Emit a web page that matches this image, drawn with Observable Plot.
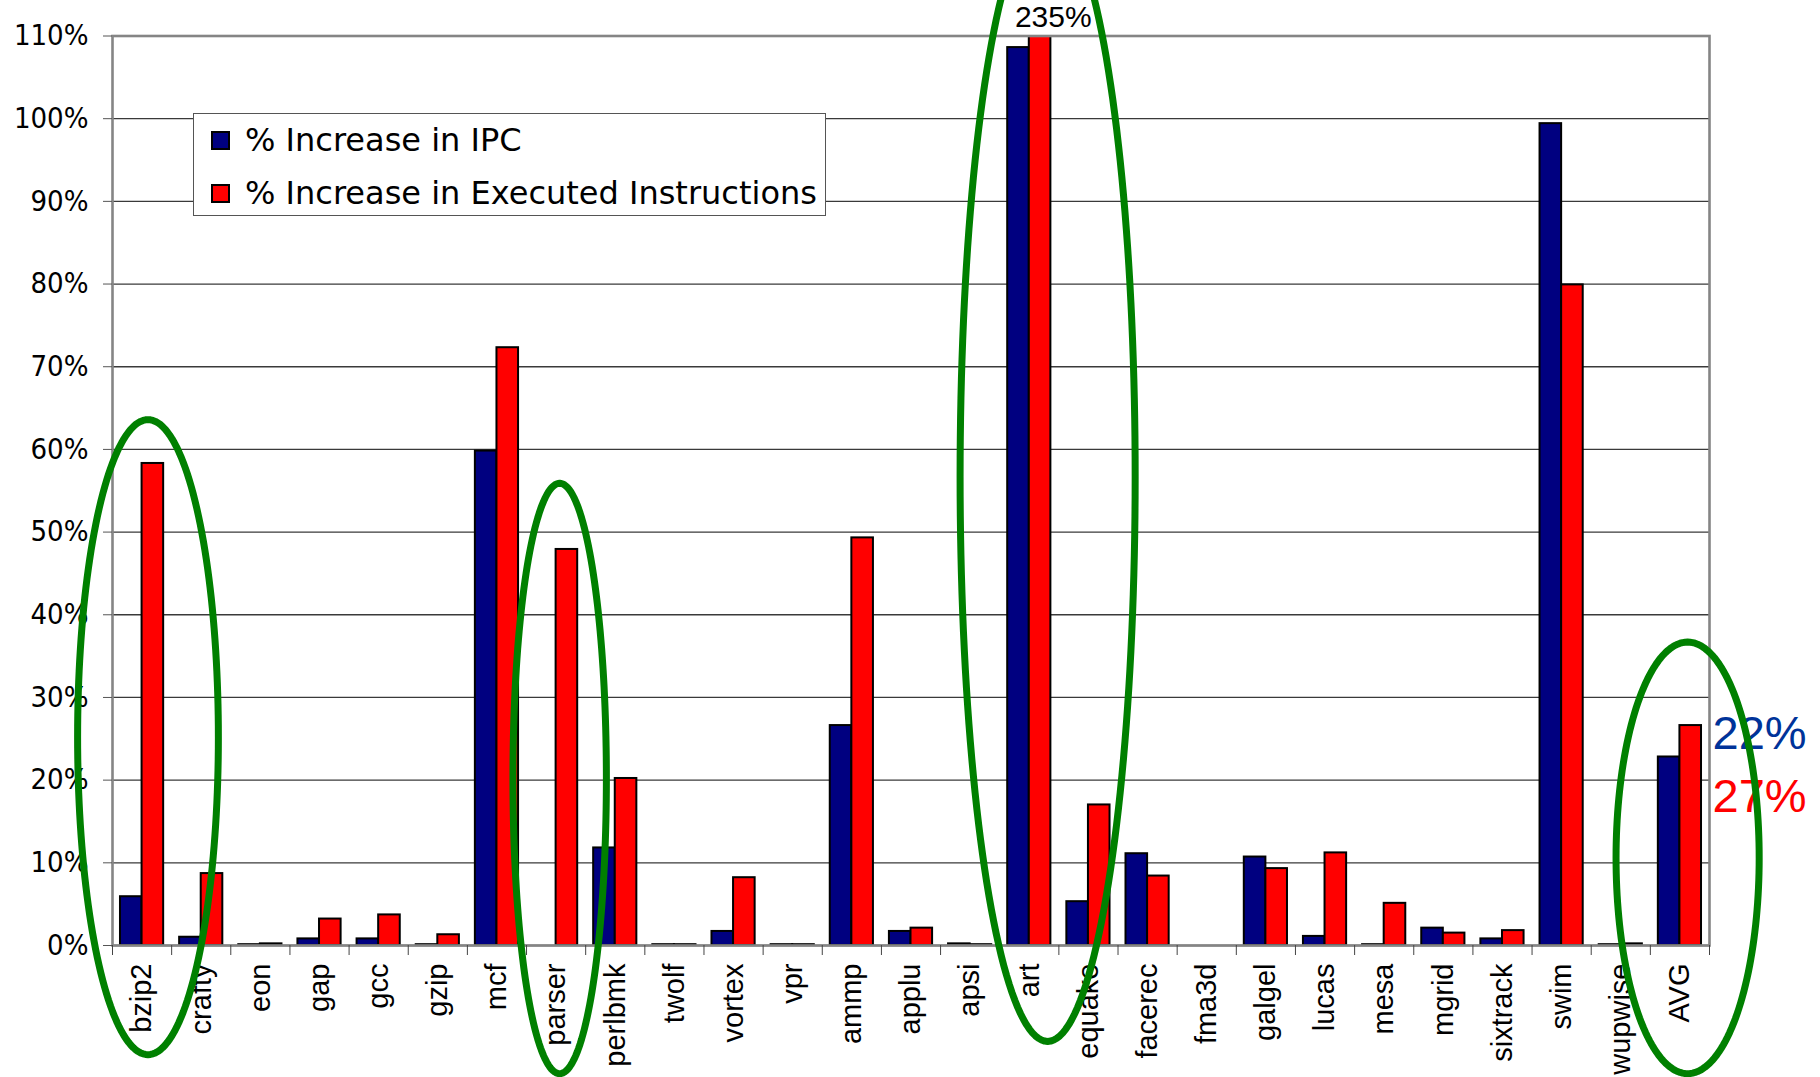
<!DOCTYPE html>
<html><head><meta charset="utf-8">
<script src="https://cdn.jsdelivr.net/npm/d3@7"></script>
<script src="https://cdn.jsdelivr.net/npm/@observablehq/plot@0.6"></script>
<style>
html,body{margin:0;padding:0;background:#fff;}
#wrap{position:relative;width:1820px;height:1077px;overflow:hidden;color:#000;}
#legend{position:absolute;left:193px;top:113px;width:633px;height:103px;box-sizing:border-box;border:1.5px solid #555;background:#fff;font-family:"DejaVu Sans","Verdana",sans-serif;font-size:32px;color:#000;}
.row{position:absolute;left:17px;height:38px;line-height:38px;display:flex;align-items:center;white-space:nowrap;}
.sw{width:19px;height:19px;box-sizing:border-box;border:2px solid #000;margin-right:15px;flex:none;}
</style></head>
<body><div id="wrap"><div id="legend"></div></div>
<script>
// ---- data ----
const categories = ["bzip2","crafty","eon","gap","gcc","gzip","mcf","parser","perlbmk","twolf","vortex","vpr","ammp","applu","apsi","art","equake","facerec","fma3d","galgel","lucas","mesa","mgrid","sixtrack","swim","wupwise","AVG"];
const ipcIncrease  = [5.9,1.0,0.1,0.8,0.8,0.1,59.8,0,11.8,0.1,1.7,0.1,26.6,1.7,0.2,108.6,5.3,11.1,0,10.7,1.1,0.1,2.1,0.8,99.4,0.1,22.8];
const execIncrease = [58.3,8.7,0.2,3.2,3.7,1.3,72.3,47.9,20.2,0.1,8.2,0.1,49.3,2.1,0.1,235,17.0,8.4,0,9.3,11.2,5.1,1.5,1.8,79.9,0.2,26.6];
const yTicks = [0,10,20,30,40,50,60,70,80,90,100,110];
const seriesNames = ["% Increase in IPC","% Increase in Executed Instructions"];
const seriesColors = ["#000080","#FF0000"];
const callouts = [{cat:"art", text:"235%"}];
const avgLabelIPC = [{text:"22%"}];
const avgLabelExec = [{text:"27%"}];
// highlight ellipses (annotation, in data units: category index, % value, radii)
const highlights = [
  {id:"a", cx:0.10, cy:25.2, rx:1.19, ry:38.4},
  {id:"b", cx:7.06, cy:20.2, rx:0.79, ry:35.7},
  {id:"c", cx:15.31, cy:56.7, rx:1.48, ry:68.3},
  {id:"d", cx:26.13, cy:10.6, rx:1.21, ry:26.1}
];

// ---- build ----
const rows = categories.map((c,i) => ({i, c, ipc: ipcIncrease[i], exec: execIncrease[i]}));
const ellipsePts = highlights.flatMap(h => d3.range(0, 360, 2).map(a => ({
  id: h.id,
  x: h.cx + h.rx*Math.cos(a*Math.PI/180),
  y: h.cy + h.ry*Math.sin(a*Math.PI/180)
})));
const avgIdx = categories.length - 1;
const half = 0.365;
const bounds = d3.range(-0.5, categories.length, 1);
const arial = "Liberation Sans, Arial, sans-serif";

const plot = Plot.plot({
  width: 1820, height: 1077,
  marginLeft: 112, marginRight: 111, marginTop: 35.5, marginBottom: 132,
  style: {background: "transparent", overflow: "visible", color: "#000"},
  x: {type: "linear", domain: [-0.5, categories.length - 0.5]},
  y: {domain: [0, 110]},
  marks: [
    Plot.gridY(yTicks, {stroke: "#3a3a3a", strokeOpacity: 1, strokeWidth: 1.3}),
    Plot.rect(rows.filter(d => d.ipc > 0), {x1: d => d.i - half, x2: d => d.i, y1: 0, y2: "ipc", fill: seriesColors[0], stroke: "#000", strokeWidth: 2, clip: true}),
    Plot.rect(rows.filter(d => d.exec > 0), {x1: d => d.i, x2: d => d.i + half, y1: 0, y2: "exec", fill: seriesColors[1], stroke: "#000", strokeWidth: 2, clip: true}),
    Plot.frame({stroke: "#858585", strokeWidth: 2.6}),
    Plot.axisY(yTicks, {tickSize: 9, tickPadding: 15, tickFormat: d => d + "%", fontSize: 29, fontFamily: "DejaVu Sans Condensed, DejaVu Sans, sans-serif", stroke: "#555", label: null}),
    Plot.axisX(bounds, {tickSize: 10, tickFormat: () => "", stroke: "#444", label: null}),
    Plot.axisX(d3.range(categories.length), {tickSize: 0, tickPadding: 18, tickRotate: -90, tickFormat: i => categories[i], fontSize: 29, fontFamily: arial, label: null}),
    Plot.text(callouts, {x: d => categories.indexOf(d.cat), y: 110, text: "text", dx: 24, dy: -9, lineAnchor: "bottom", fontSize: 30, fontFamily: arial, fill: "#000"}),
    Plot.text(avgLabelIPC, {x: avgIdx + 0.5, y: ipcIncrease[avgIdx], dy: -23, text: "text", fill: "#003399", dx: 3, textAnchor: "start", lineAnchor: "middle", fontSize: 47, fontFamily: arial}),
    Plot.text(avgLabelExec, {x: avgIdx + 0.5, y: execIncrease[avgIdx], dy: 71, text: "text", fill: "#FF0000", dx: 3, textAnchor: "start", lineAnchor: "middle", fontSize: 47, fontFamily: arial}),
    Plot.line(ellipsePts, {x: "x", y: "y", z: "id", stroke: "#008000", strokeWidth: 7, curve: "linear-closed"})
  ]
});
document.getElementById("wrap").prepend(plot);

const legend = document.getElementById("legend");
seriesNames.forEach((name, k) => {
  const row = document.createElement("div");
  row.className = "row";
  row.style.top = (7 + k*53) + "px";
  const sw = document.createElement("div");
  sw.className = "sw";
  sw.style.background = seriesColors[k];
  const t = document.createElement("span");
  t.textContent = name;
  row.append(sw, t);
  legend.append(row);
});
</script>
</body></html>
